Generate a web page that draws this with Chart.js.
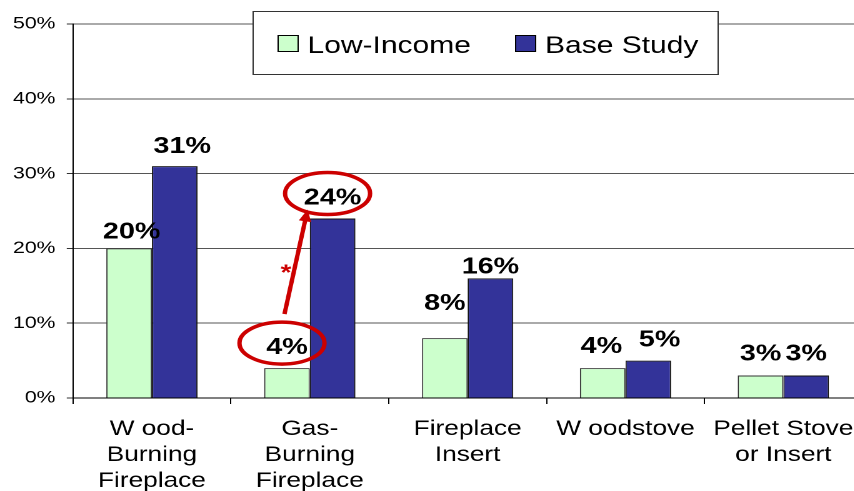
<!DOCTYPE html>
<html>
<head>
<meta charset="utf-8">
<script src="https://cdn.jsdelivr.net/npm/chart.js@4"></script>
<style>
  html, body { margin: 0; padding: 0; background: #fff; overflow: hidden; width: 854px; height: 491px; }
  /* the original picture is stretched sideways, so the chart is drawn narrow and widened */
  #wrap { position: absolute; left: 0; top: 0; width: 695px; height: 491px; transform: scaleX(1.25); transform-origin: 0 0; }
</style>
</head>
<body>
<div id="wrap"><canvas id="heatChart" width="695" height="491"></canvas></div>
<script>
// Categories and values (percent of homes)
var categories = [
    ['W ood-', 'Burning', 'Fireplace'],
    ['Gas-', 'Burning', 'Fireplace'],
    ['Fireplace', 'Insert'],
    'W oodstove',
    ['Pellet Stove', 'or Insert']
];
var lowIncome = [20, 4, 8, 4, 3];
var baseStudy = [31, 24, 16, 5, 3];
var yTicks = [0, 10, 20, 30, 40, 50];

var FONT = '"Liberation Sans", Arial, sans-serif';
Chart.defaults.font.family = FONT;
Chart.defaults.color = '#000';

// Value labels above bars; small nudges [dx, gap above bar] copy the original placement
var valueLabels = {
    id: 'valueLabels',
    afterDatasetsDraw: function(chart) {
        var nudge = [
            [[2, 10], [0, 14], [0, 28], [-1, 15], [0, 15]],
            [[6, 13], [0, 14], [0, 5], [9, 14], [0, 15]]
        ];
        var ctx = chart.ctx;
        ctx.save();
        ctx.font = 'bold 23px ' + FONT;
        ctx.fillStyle = '#000';
        ctx.textAlign = 'center';
        ctx.textBaseline = 'alphabetic';
        chart.data.datasets.forEach(function(ds, di) {
            chart.getDatasetMeta(di).data.forEach(function(el, i) {
                var n = nudge[di][i];
                ctx.fillText(ds.data[i] + '%', el.x + n[0], el.y - n[1]);
            });
        });
        ctx.restore();
    }
};

// Red circles and arrow around the Gas-Burning Fireplace values
var gasCallout = {
    id: 'gasCallout',
    afterDatasetsDraw: function(chart) {
        var ctx = chart.ctx;
        var low = chart.getDatasetMeta(0).data[1];
        var base = chart.getDatasetMeta(1).data[1];
        var c1 = { x: low.x - 4, y: low.y - 14 - 11 };
        var c2 = { x: base.x - 4, y: base.y - 14 - 11 };
        ctx.save();
        ctx.strokeStyle = '#cc0000';
        ctx.fillStyle = '#cc0000';
        ctx.lineWidth = 3.5;
        [c1, c2].forEach(function(c) {
            ctx.beginPath();
            ctx.ellipse(c.x, c.y, 34, 21, 0, 0, Math.PI * 2);
            ctx.stroke();
        });
        var sx = c1.x + 2, sy = c1.y - 29;
        var ex = c2.x - 16, ey = c2.y + 16;
        var ang = Math.atan2(ey - sy, ex - sx);
        var head = 12;
        ctx.beginPath();
        ctx.moveTo(sx, sy);
        ctx.lineTo(ex - Math.cos(ang) * head * 0.8, ey - Math.sin(ang) * head * 0.8);
        ctx.stroke();
        ctx.beginPath();
        ctx.moveTo(ex, ey);
        ctx.lineTo(ex - Math.cos(ang) * head + Math.sin(ang) * 5, ey - Math.sin(ang) * head - Math.cos(ang) * 5);
        ctx.lineTo(ex - Math.cos(ang) * head - Math.sin(ang) * 5, ey - Math.sin(ang) * head + Math.cos(ang) * 5);
        ctx.closePath();
        ctx.fill();
        ctx.font = 'bold 22px ' + FONT;
        ctx.textAlign = 'center';
        ctx.fillText('*', (sx + ex) / 2 - 8, (sy + ey) / 2 + 18);
        ctx.restore();
    }
};

// Boxed legend sitting inside the plot
var boxLegend = {
    id: 'boxLegend',
    afterDraw: function(chart) {
        var ctx = chart.ctx;
        var bx = 202.5, by = 11.5, bw = 372, bh = 63;
        var itemX = [222, 412];
        ctx.save();
        ctx.fillStyle = '#fff';
        ctx.fillRect(bx, by, bw, bh);
        ctx.strokeStyle = '#333';
        ctx.lineWidth = 1;
        ctx.strokeRect(bx, by, bw, bh);
        ctx.font = '24px ' + FONT;
        ctx.textBaseline = 'alphabetic';
        ctx.textAlign = 'left';
        chart.data.datasets.forEach(function(ds, i) {
            ctx.fillStyle = ds.backgroundColor;
            ctx.fillRect(itemX[i] + 0.5, 35.5, 16, 16);
            ctx.strokeStyle = '#000';
            ctx.strokeRect(itemX[i] + 0.5, 35.5, 16, 16);
            ctx.fillStyle = '#000';
            ctx.fillText(ds.label, itemX[i] + 24, 53);
        });
        ctx.restore();
    }
};

var ctx = document.getElementById('heatChart').getContext('2d');
var heatChart = new Chart(ctx, {
    type: 'bar',
    data: {
        labels: categories,
        datasets: [{
            label: 'Low-Income',
            data: lowIncome,
            backgroundColor: '#ccffcc',
            borderColor: '#333',
            borderWidth: 1,
            borderSkipped: 'bottom'
        }, {
            label: 'Base Study',
            data: baseStudy,
            backgroundColor: '#333399',
            borderColor: '#111',
            borderWidth: 1,
            borderSkipped: 'bottom'
        }]
    },
    options: {
        responsive: false,
        animation: false,
        devicePixelRatio: 2,
        layout: { padding: { top: 24, right: 2.8, left: 0, bottom: 0 } },
        datasets: {
            bar: { categoryPercentage: 0.578, barPercentage: 1 }
        },
        plugins: {
            legend: { display: false },
            tooltip: { enabled: false }
        },
        scales: {
            x: {
                grid: {
                    display: true,
                    drawOnChartArea: false,
                    drawTicks: true,
                    tickLength: 6,
                    tickColor: '#000',
                    offset: true
                },
                border: { color: '#000', width: 1 },
                ticks: {
                    font: { size: 21, lineHeight: 1.24 },
                    color: '#000',
                    padding: 12,
                    maxRotation: 0,
                    autoSkip: false
                },
                afterFit: function(scale) { scale.height = 93; }
            },
            y: {
                min: 0,
                max: 50,
                afterBuildTicks: function(scale) {
                    scale.ticks = yTicks.map(function(v) { return { value: v }; });
                },
                grid: {
                    color: '#555',
                    tickLength: 5,
                    tickColor: '#333'
                },
                border: { color: '#000', width: 1 },
                ticks: {
                    font: { size: 17 },
                    color: '#000',
                    padding: 9,
                    callback: function(v) { return v + '%'; }
                },
                afterFit: function(scale) { scale.width = 58.4; }
            }
        }
    },
    plugins: [valueLabels, gasCallout, boxLegend]
});
</script>
</body>
</html>
